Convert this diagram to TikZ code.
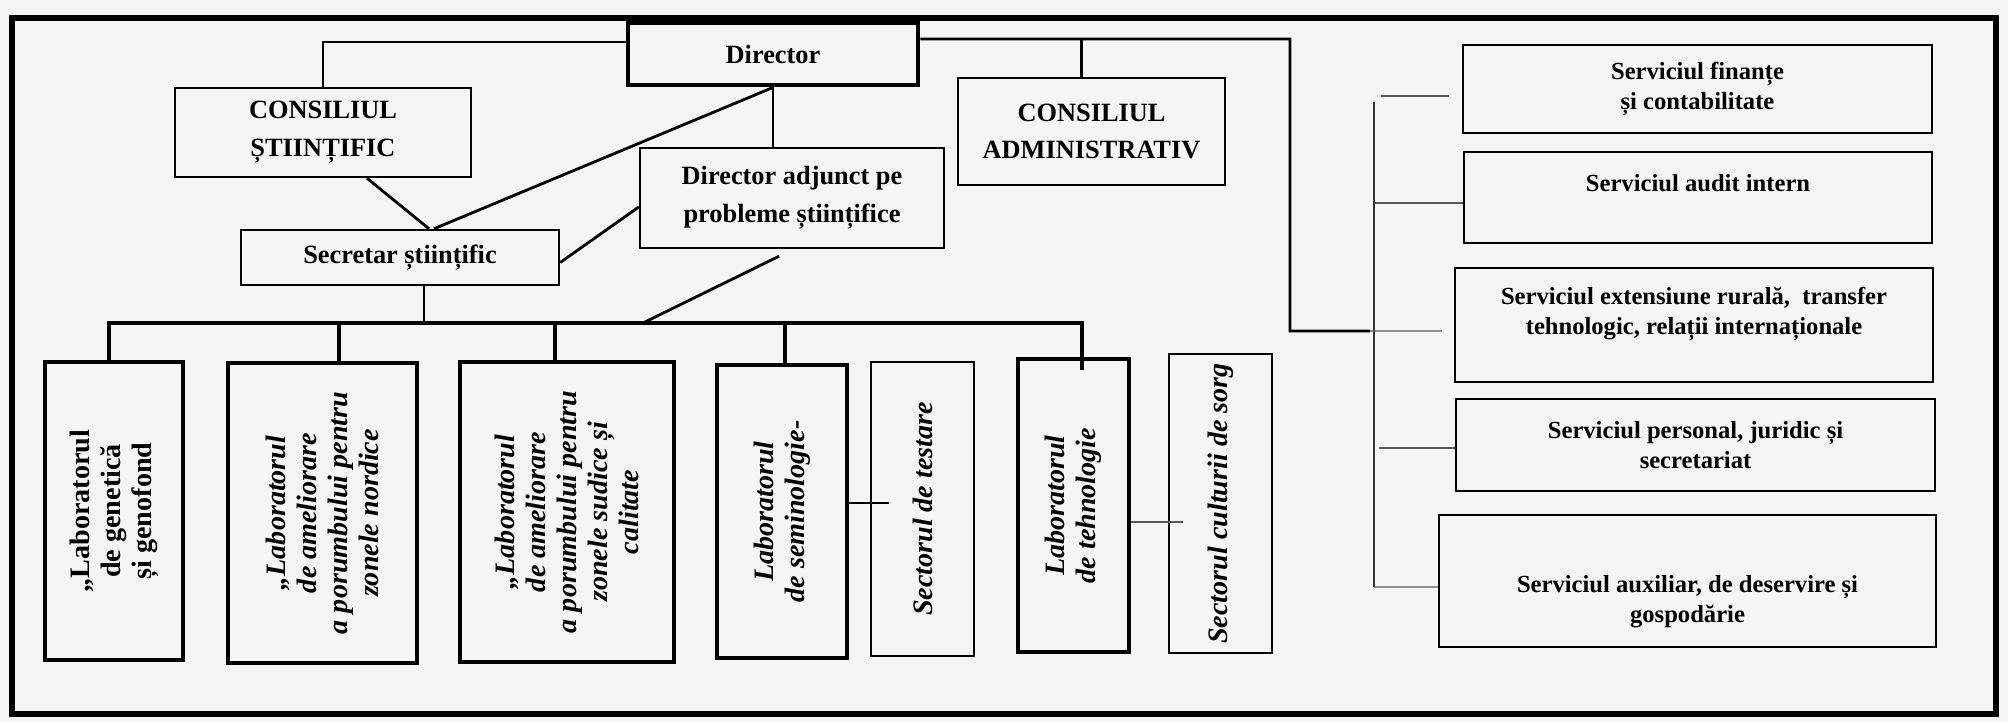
\documentclass[tikz,border=0pt]{standalone}
\usepackage{fontspec}
\setmainfont{Liberation Serif}
\begin{document}
\begin{tikzpicture}[x=0.1mm, y=-0.1mm,
box/.style={draw, line width=0.7pt, align=center, inner sep=1pt, font=\bfseries\fontsize{7.5}{10.8}\selectfont},
srv/.style={draw, line width=0.6pt, align=center, inner sep=1pt, font=\bfseries\fontsize{7}{8.6}\selectfont},
lab/.style={draw, line width=1.2pt, rotate=90, align=center, inner sep=1pt, font=\bfseries\itshape\fontsize{8}{8.8}\selectfont},
sector/.style={draw, line width=0.6pt, rotate=90, align=center, inner sep=1pt, font=\bfseries\itshape\fontsize{8}{8.8}\selectfont},
link/.style={line width=0.8pt},
bus/.style={line width=1.2pt},
stub/.style={line width=0.4pt, black!65}]

\fill[black!4] (0,0) rectangle (2008,722);
\draw[line width=1.6pt] (12,18) rectangle (1996,714);

\node[box, line width=1.4pt, minimum width=29mm, minimum height=6.2mm] (dir) at (773,54) {Director};
\node[box, minimum width=29.6mm, minimum height=8.9mm] (cs) at (323,132.5) {CONSILIUL\\ȘTIINȚIFIC};
\node[box, minimum width=26.7mm, minimum height=10.7mm] (ca) at (1091.5,131.5) {CONSILIUL\\ADMINISTRATIV};
\node[box, minimum width=30.4mm, minimum height=10mm] (adj) at (792,198) {Director adjunct pe\\probleme științifice};
\node[box, minimum width=31.8mm, minimum height=5.5mm] (sec) at (400,257.5) {Secretar științific};

\node[srv, minimum width=46.9mm, minimum height=8.8mm] (s1) at (1697.5,89) {Serviciul finanțe\\și contabilitate};
\node[srv, text depth=3mm, minimum width=46.8mm, minimum height=9.1mm] (s2) at (1698,197.5) {Serviciul audit intern};
\node[srv, text depth=2.8mm, minimum width=47.8mm, minimum height=11.4mm] (s3) at (1694,325) {Serviciul extensiune rurală,~ transfer\\tehnologic, relații internaționale};
\node[srv, minimum width=47.9mm, minimum height=9.2mm] (s4) at (1695.5,445) {Serviciul personal, juridic și\\secretariat};
\node[srv, text height=8.8mm, minimum width=49.7mm, minimum height=13.2mm] (s5) at (1687.5,581) {Serviciul auxiliar, de deservire și\\gospodărie};

\node[lab, font=\bfseries\fontsize{8}{8.8}\selectfont, minimum width=29.8mm, minimum height=13.8mm] (l1) at (114,511) {„Laboratorul\\de genetică\\și genofond};
\node[lab, minimum width=30mm, minimum height=18.9mm] (l2) at (322.5,513) {„Laboratorul\\de ameliorare\\a porumbului pentru\\zonele nordice};
\node[lab, minimum width=30mm, minimum height=21.4mm] (l3) at (567,512) {„Laboratorul\\de ameliorare\\a porumbului pentru\\zonele sudice și\\calitate};
\node[lab, minimum width=29.3mm, minimum height=13mm] (l4) at (782,511.5) {Laboratorul\\de seminologie-};
\node[sector, minimum width=29.4mm, minimum height=10.3mm] (test) at (922.5,509) {Sectorul de testare};
\node[lab, minimum width=29.3mm, minimum height=11.1mm] (l5) at (1073.5,505.5) {Laboratorul\\de tehnologie};
\node[sector, minimum width=29.9mm, minimum height=10.3mm] (sorg) at (1220.5,503.5) {Sectorul culturii de sorg};

\coordinate (rt) at (1290,39);
\coordinate (sv) at (1370,331);
\coordinate (sbt) at (1374,102);
\coordinate (sbb) at (1374,587);
\coordinate (bl) at (109,323);
\coordinate (t2) at (339,323);
\coordinate (t3) at (555,323);
\coordinate (t4) at (785,323);
\coordinate (ba) at (643,323);
\coordinate (br) at (1082,323);

\draw[link] ([yshift=1.2mm]dir.west) -| (cs.north);
\draw[link] ([yshift=1.5mm]dir.east) -- (rt) |- (sv);
\draw[link] ([xshift=-1mm]ca.north) -- ([xshift=-1mm]ca.north |- rt);
\draw[link] (dir.south) -- (dir.south |- adj.north);
\draw[link] (dir.south) -- ([xshift=3.4mm]sec.north);
\draw[link] ([xshift=4.4mm]cs.south) -- ([xshift=2.9mm]sec.north);
\draw[link] ([yshift=-0.5mm]sec.east) -- ([yshift=-0.9mm]adj.west);
\draw[link] ([xshift=-1.3mm,yshift=-0.7mm]adj.south) -- (ba);
\draw[link] ([xshift=2.4mm]sec.south) -- ([xshift=2.4mm]sec.south |- bl);

\draw[bus] (bl |- l1.east) -- (bl) -- (br) -- ([yshift=-1.3mm]br |- l5.east);
\draw[bus] (t2) -- (t2 |- l2.east);
\draw[bus] (t3) -- (t3 |- l3.east);
\draw[bus] (t4) -- (t4 |- l4.east);
\draw[stub, black] ([yshift=0.85mm]l4.south) -- ++(4mm,0);
\draw[stub] ([yshift=-1.65mm]l5.south) -- ++(5.2mm,0);

\draw[line width=0.5pt, black!80] (sbt) -- (sbb);
\draw[stub] ([xshift=-1.3mm,yshift=-0.7mm]s1.west) -- ++(-6.8mm,0);
\draw[stub] ([yshift=-0.55mm]s2.west) -- ++(-8.8mm,0);
\draw[stub] (sv) -- ([xshift=-1.2mm,yshift=-0.6mm]s3.west);
\draw[stub] ([yshift=-0.3mm]s4.west) -- ++(-7.6mm,0);
\draw[stub] ([yshift=-0.6mm]s5.west) -- (sbb);
\end{tikzpicture}
\end{document}
